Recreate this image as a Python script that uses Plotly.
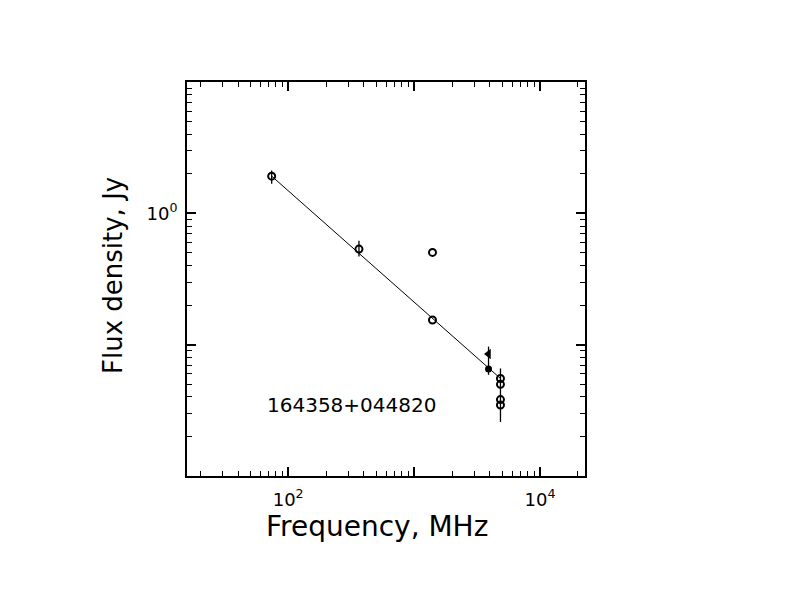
import plotly.graph_objects as go

# ---- data ----
open_freq = [74, 365, 1400, 1400, 4850, 4850, 4850, 4850]
open_flux = [1.92, 0.534, 0.504, 0.154, 0.0553, 0.0499, 0.0382, 0.0347]
open_err_plus = [0.20, 0.085, 0, 0, 0, 0, 0.0277, 0]
open_err_minus = [0.24, 0.064, 0, 0, 0, 0, 0.0124, 0]

filled_freq = [3900]
filled_flux = [0.0652]
filled_err_plus = [0.0314]
filled_err_minus = [0.0062]

tri_freq = [3900]
tri_flux = [0.0849]

fit_freq = [74, 4850]
fit_flux = [1.92, 0.0553]

source_name = "164358+044820"
x_title = "Frequency, MHz"
y_title = "Flux density, Jy"

x_major = [100, 1000, 10000]
x_major_text = ["10<sup>2</sup>", "", "10<sup>4</sup>"]
y_major = [0.01, 0.1, 1, 10]
y_major_text = ["", "", "10<sup>0</sup>", ""]

x_minor = [m * 10 ** e for e in range(1, 5) for m in range(2, 10)]
y_minor = [m * 10.0 ** e for e in range(-2, 1) for m in range(2, 10)]

FONT = "DejaVu Sans"

fig = go.Figure()

fig.add_trace(go.Scatter(
    x=fit_freq, y=fit_flux, mode="lines",
    line=dict(color="black", width=1), showlegend=False, hoverinfo="skip"))

fig.add_trace(go.Scatter(
    x=open_freq, y=open_flux, mode="markers",
    marker=dict(symbol="circle-open", size=7, color="black", line=dict(width=2, color="black")),
    error_y=dict(type="data", symmetric=False, array=open_err_plus, arrayminus=open_err_minus,
                 color="black", thickness=1.3, width=0),
    showlegend=False))

fig.add_trace(go.Scatter(
    x=filled_freq, y=filled_flux, mode="markers",
    marker=dict(symbol="circle", size=7, color="black"),
    error_y=dict(type="data", symmetric=False, array=filled_err_plus, arrayminus=filled_err_minus,
                 color="black", thickness=1.3, width=0),
    showlegend=False))

fig.add_trace(go.Scatter(
    x=tri_freq, y=tri_flux, mode="markers",
    marker=dict(symbol="triangle-left", size=9, color="black"),
    showlegend=False))

fig.add_annotation(
    x=0.413, y=0.181, xref="paper", yref="paper", text=source_name, showarrow=False,
    font=dict(family=FONT, size=20, color="black"), xanchor="center", yanchor="middle")

# axis titles as annotations for exact placement
fig.add_annotation(
    x=0.478, y=-0.127, xref="paper", yref="paper", text=x_title, showarrow=False,
    font=dict(family=FONT, size=28, color="black"), xanchor="center", yanchor="middle")
fig.add_annotation(
    x=-0.186, y=0.51, xref="paper", yref="paper", text=y_title, showarrow=False, textangle=-90,
    font=dict(family=FONT, size=26, color="black"), xanchor="center", yanchor="middle")

axis_common = dict(
    showgrid=False, zeroline=False, showline=True, linecolor="black", linewidth=2,
    mirror="allticks", ticks="inside", ticklen=9, tickwidth=1.5, tickcolor="black",
    tickfont=dict(family=FONT, size=18, color="black"),
)

fig.update_xaxes(
    type="log", range=[1.197, 4.357], tickmode="array", tickvals=x_major, ticktext=x_major_text,
    minor=dict(tickmode="array", tickvals=x_minor, ticks="inside", ticklen=5, tickwidth=1, tickcolor="black"),
    ticklabelstandoff=6,
    **axis_common)

fig.update_yaxes(
    type="log", range=[-2, 1], tickmode="array", tickvals=y_major, ticktext=y_major_text,
    minor=dict(tickmode="array", tickvals=y_minor, ticks="inside", ticklen=5, tickwidth=1, tickcolor="black"),
    ticklabelstandoff=4,
    **axis_common)

fig.update_layout(
    width=792, height=612,
    margin=dict(l=179, r=215, t=74, b=144),
    paper_bgcolor="white", plot_bgcolor="white",
)

fig.write_html("out.html")
